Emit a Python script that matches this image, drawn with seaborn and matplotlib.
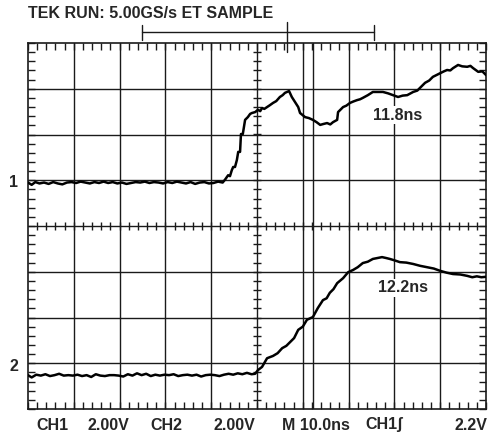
import numpy as np
import matplotlib
matplotlib.use("Agg")
import matplotlib.pyplot as plt
from matplotlib.ticker import MultipleLocator
import seaborn as sns

# Scope screen values, in divisions (x: 0..10, y: 0..8 from the bottom)
ch1_x = [0.00, 0.08, 0.16, 0.25, 0.35, 0.45, 0.55, 0.65, 0.75, 0.85, 0.95, 1.05,
         1.15, 1.25, 1.35, 1.45, 1.55, 1.65, 1.75, 1.85, 1.95, 2.05, 2.15, 2.25,
         2.35, 2.45, 2.55, 2.65, 2.75, 2.85, 2.95, 3.05, 3.15, 3.25, 3.35, 3.45,
         3.55, 3.65, 3.75, 3.85, 3.95, 4.05, 4.15, 4.25,
         4.30, 4.37, 4.41, 4.45, 4.48, 4.52, 4.56, 4.59, 4.63, 4.65, 4.69, 4.74,
         4.78, 4.80, 4.85, 4.89, 4.96, 5.02, 5.07, 5.11, 5.16, 5.22, 5.28, 5.35,
         5.42, 5.50, 5.56, 5.61, 5.70, 5.76, 5.83, 5.90, 5.94, 6.05, 6.13, 6.22,
         6.30, 6.38, 6.45, 6.53, 6.60, 6.66, 6.75, 6.77, 6.88, 6.95, 7.03, 7.10,
         7.18, 7.25, 7.31, 7.42, 7.53, 7.64, 7.75, 7.86, 7.97, 8.08, 8.18, 8.28,
         8.41, 8.50, 8.56, 8.67, 8.76, 8.84, 8.92, 9.00, 9.08, 9.15, 9.22, 9.28,
         9.39, 9.48, 9.59, 9.66, 9.72, 9.83, 9.92, 10.0]
ch1_y = [4.95, 4.90, 4.96, 4.93, 4.95, 4.92, 4.96, 4.93, 4.91, 4.95, 4.96, 4.94,
         4.97, 4.95, 4.93, 4.96, 4.94, 4.97, 4.94, 4.96, 4.93, 4.95, 4.92, 4.94,
         4.96, 4.95, 4.97, 4.94, 4.96, 4.95, 4.93, 4.96, 4.94, 4.97, 4.95, 4.93,
         4.96, 4.92, 4.95, 4.96, 4.93, 4.94, 4.97, 4.95,
         5.01, 5.11, 5.09, 5.22, 5.29, 5.29, 5.44, 5.62, 5.62, 6.01, 6.01, 6.32,
         6.36, 6.38, 6.45, 6.47, 6.49, 6.54, 6.51, 6.58, 6.56, 6.60, 6.64, 6.69,
         6.73, 6.82, 6.86, 6.91, 6.95, 6.82, 6.71, 6.60, 6.47, 6.38, 6.36, 6.32,
         6.27, 6.21, 6.23, 6.25, 6.22, 6.27, 6.32, 6.49, 6.60, 6.63, 6.69, 6.72,
         6.75, 6.77, 6.80, 6.86, 6.93, 6.93, 6.93, 6.90, 6.86, 6.82, 6.85, 6.86,
         6.93, 6.96, 7.02, 7.13, 7.18, 7.26, 7.30, 7.34, 7.38, 7.41, 7.40, 7.45,
         7.52, 7.49, 7.48, 7.50, 7.45, 7.37, 7.38, 7.30]

ch2_x = [0.00, 0.08, 0.18, 0.28, 0.38, 0.48, 0.58, 0.68, 0.78, 0.88, 0.98, 1.08,
         1.18, 1.28, 1.38, 1.48, 1.58, 1.68, 1.78, 1.88, 1.98, 2.08, 2.18, 2.28,
         2.38, 2.48, 2.58, 2.68, 2.78, 2.88, 2.98, 3.08, 3.18, 3.28, 3.38, 3.48,
         3.58, 3.68, 3.78, 3.88, 3.98, 4.08, 4.18, 4.28, 4.38, 4.48, 4.58, 4.68,
         4.78, 4.88, 4.96,
         5.02, 5.11, 5.22, 5.35, 5.45, 5.55, 5.64, 5.72, 5.81, 5.90, 6.00, 6.09,
         6.22, 6.33, 6.44, 6.52, 6.59, 6.67, 6.75, 6.88, 6.99, 7.10, 7.20, 7.31,
         7.42, 7.53, 7.63, 7.73, 7.82, 7.90, 8.00, 8.12, 8.26, 8.41, 8.56, 8.71,
         8.86, 9.00, 9.14, 9.28, 9.44, 9.59, 9.70, 9.80, 9.90, 10.0]
ch2_y = [0.74, 0.69, 0.75, 0.73, 0.76, 0.72, 0.74, 0.77, 0.73, 0.74, 0.73, 0.75,
         0.72, 0.74, 0.70, 0.76, 0.73, 0.72, 0.74, 0.74, 0.73, 0.71, 0.76, 0.73,
         0.78, 0.74, 0.77, 0.72, 0.75, 0.73, 0.75, 0.74, 0.76, 0.72, 0.74, 0.75,
         0.73, 0.75, 0.71, 0.74, 0.75, 0.74, 0.72, 0.75, 0.77, 0.75, 0.78, 0.76,
         0.79, 0.76, 0.77,
         0.85, 0.92, 1.11, 1.16, 1.22, 1.33, 1.38, 1.46, 1.55, 1.73, 1.80, 1.95,
         2.01, 2.21, 2.38, 2.42, 2.54, 2.62, 2.75, 2.86, 2.99, 3.04, 3.10, 3.19,
         3.22, 3.28, 3.30, 3.32, 3.30, 3.28, 3.25, 3.21, 3.20, 3.17, 3.13, 3.10,
         3.07, 3.02, 2.98, 2.95, 2.94, 2.91, 2.88, 2.90, 2.88, 2.89]

ch1_marker = 4.95
ch2_marker = 0.92
cursor_x = 6.22
trigger_x = 5.65
bar_x = [2.49, 7.55]

fig = plt.figure(figsize=(4.92, 4.37), dpi=100)
sns.set_style("white")
plt.rcParams['font.family'] = ['Liberation Sans', 'DejaVu Sans']

ax = fig.add_axes([28 / 492, 28 / 437, 458 / 492, 366 / 437])
ax.set_xlim(0, 10)
ax.set_ylim(0, 8)

grid_col = "#1a1a1a"
for i in range(1, 10):
    ax.axvline(i, color=grid_col, lw=1.0, zorder=1)
for j in range(1, 8):
    ax.axhline(j, color=grid_col, lw=1.0, zorder=1)
ax.axvline(cursor_x, color=grid_col, lw=1.0, zorder=1)

for s in ax.spines.values():
    s.set_color(grid_col)
    s.set_linewidth(1.2)

ax.xaxis.set_major_locator(MultipleLocator(1))
ax.yaxis.set_major_locator(MultipleLocator(1))
ax.xaxis.set_minor_locator(MultipleLocator(0.2))
ax.yaxis.set_minor_locator(MultipleLocator(0.2))
ax.tick_params(which='both', direction='in', top=True, right=True, bottom=True,
               left=True, length=5, width=1, color=grid_col,
               labelbottom=False, labelleft=False)

# center cross minor ticks
minor_x = np.arange(0.2, 10, 0.2)
minor_y = np.arange(0.2, 8, 0.2)
ax.plot(minor_x, np.full(len(minor_x), 4.0), ls='none', marker='|', ms=6,
        mew=1, color=grid_col, zorder=1)
ax.plot(np.full(len(minor_y), 5.0), minor_y, ls='none', marker='_', ms=6,
        mew=1, color=grid_col, zorder=1)

sns.lineplot(x=ch1_x, y=ch1_y, ax=ax, color='black', lw=1.8, sort=False,
             estimator=None, zorder=3)
sns.lineplot(x=ch2_x, y=ch2_y, ax=ax, color='black', lw=1.8, sort=False,
             estimator=None, zorder=3)

# trigger bar above the screen
ax.plot(bar_x, [8.24, 8.24], color=grid_col, lw=1.0, clip_on=False)
for bx in bar_x:
    ax.plot([bx, bx], [8.07, 8.39], color=grid_col, lw=1.0, clip_on=False)
ax.plot([trigger_x, trigger_x], [7.80, 8.46], color=grid_col, lw=1.0, clip_on=False)

fs = 11.5
bb = dict(facecolor='white', edgecolor='none', pad=1)
ax.text(8.08, 6.42, "11.8ns", ha='center', va='center', fontsize=fs,
        fontweight='bold', bbox=bb, zorder=4)
ax.text(8.19, 2.65, "12.2ns", ha='center', va='center', fontsize=fs,
        fontweight='bold', bbox=bb, zorder=4)

ax.text(-0.31, ch1_marker, "1", ha='center', va='center', fontsize=fs,
        fontweight='bold', clip_on=False)
ax.text(-0.31, ch2_marker, "2", ha='center', va='center', fontsize=fs,
        fontweight='bold', clip_on=False)

def ft(x, y, s, ha='left'):
    fig.text(x / 492, 1 - y / 437, s, ha=ha, va='center', fontsize=fs,
             fontweight='bold')

ft(28, 14, "TEK RUN: 5.00GS/s ET SAMPLE")
ft(36, 425, "CH1")
ft(88, 425, "2.00V")
ft(150, 425, "CH2")
ft(213, 425, "2.00V")
ft(282, 425, "M 10.0ns")
ft(365, 425, "CH1ʃ")
ft(487, 425, "2.2V", ha='right')

fig.savefig("out.png", dpi=100, facecolor='white')
